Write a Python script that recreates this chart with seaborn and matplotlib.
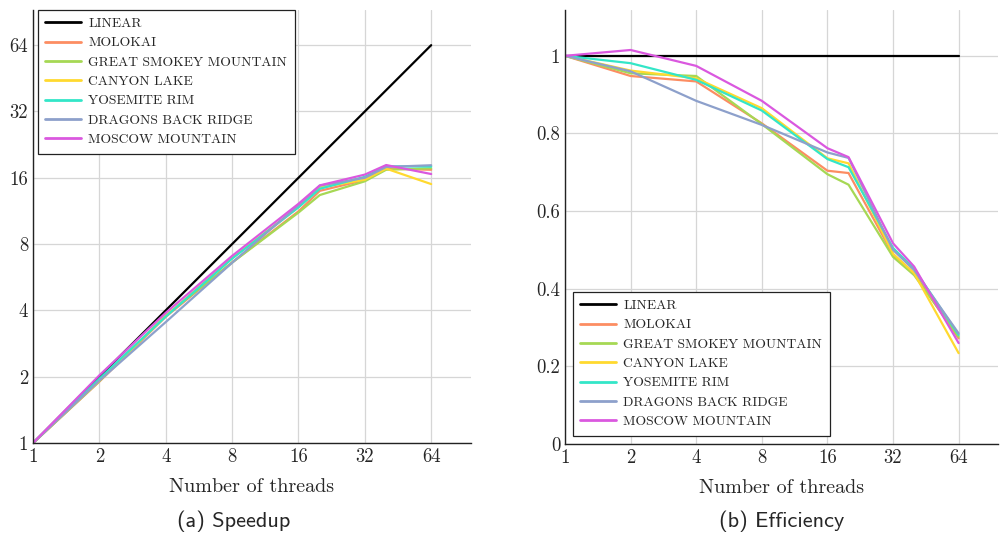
import numpy as np
import pandas as pd
import matplotlib
matplotlib.use("Agg")
import matplotlib.pyplot as plt
import seaborn as sns

threads = [1, 2, 4, 8, 16, 20, 32, 40, 64]
linear_threads = [1, 2, 4, 8, 16, 32, 64]
machines = ["LINEAR", "MOLOKAI", "GREAT SMOKEY MOUNTAIN", "CANYON LAKE",
            "YOSEMITE RIM", "DRAGONS BACK RIDGE", "MOSCOW MOUNTAIN"]
colors = ["#000000", "#FC8D62", "#A6D854", "#FFD92F", "#33E6C8", "#8DA0CB", "#DA58DF"]

linear_speedup = [1, 2, 4, 8, 16, 32, 64]
linear_eff = [1, 1, 1, 1, 1, 1, 1]

speedup_molokai = [1, 1.90, 3.74, 6.61, 11.26, 13.96, 15.62, 17.6, 17.4]
speedup_smokey = [1, 1.91, 3.79, 6.59, 11.12, 13.36, 15.42, 17.4, 17.66]
speedup_canyon = [1, 1.92, 3.77, 6.92, 11.78, 14.46, 15.68, 17.6, 14.98]
speedup_yosemite = [1, 1.96, 3.75, 6.87, 11.74, 14.26, 16.16, 18.04, 17.98]
speedup_dragons = [1, 1.92, 3.54, 6.58, 12.02, 14.74, 16.0, 17.92, 18.24]
speedup_moscow = [1, 2.03, 3.90, 7.07, 12.19, 14.78, 16.54, 18.28, 16.64]

eff_molokai = [1, 0.948, 0.934, 0.826, 0.704, 0.698, 0.488, 0.44, 0.272]
eff_smokey = [1, 0.955, 0.948, 0.824, 0.695, 0.668, 0.482, 0.435, 0.276]
eff_canyon = [1, 0.962, 0.942, 0.865, 0.736, 0.723, 0.49, 0.44, 0.234]
eff_yosemite = [1, 0.981, 0.938, 0.859, 0.734, 0.713, 0.505, 0.451, 0.281]
eff_dragons = [1, 0.96, 0.884, 0.822, 0.751, 0.737, 0.5, 0.448, 0.285]
eff_moscow = [1, 1.015, 0.974, 0.884, 0.762, 0.739, 0.517, 0.457, 0.26]

x_ticks = [1, 2, 4, 8, 16, 32, 64]
x_ticklabels = ["1", "2", "4", "8", "16", "32", "64"]
speed_ticks = [1, 2, 4, 8, 16, 32, 64]
speed_ticklabels = ["1", "2", "4", "8", "16", "32", "64"]
eff_ticks = [0, 0.2, 0.4, 0.6, 0.8, 1.0]
eff_ticklabels = ["0", "0.2", "0.4", "0.6", "0.8", "1"]

speed_series = [speedup_molokai, speedup_smokey, speedup_canyon,
                speedup_yosemite, speedup_dragons, speedup_moscow]
eff_series = [eff_molokai, eff_smokey, eff_canyon,
              eff_yosemite, eff_dragons, eff_moscow]

rows = []
for t, s, e in zip(linear_threads, linear_speedup, linear_eff):
    rows.append(dict(machine=machines[0], threads=t, speedup=s, eff=e))
for name, sp, ef in zip(machines[1:], speed_series, eff_series):
    for t, s, e in zip(threads, sp, ef):
        rows.append(dict(machine=name, threads=t, speedup=s, eff=e))
df = pd.DataFrame(rows)

sns.set_theme(style="white")
plt.rcParams["font.family"] = ["cmr10", "DejaVu Serif"]
plt.rcParams["mathtext.fontset"] = "cm"
plt.rcParams["axes.formatter.use_mathtext"] = True

palette = dict(zip(machines, colors))

fig = plt.figure(figsize=(10, 5.41), dpi=100)
ax1 = fig.add_axes([0.033, 0.1811, 0.438, 0.8004])
ax2 = fig.add_axes([0.565, 0.1793, 0.433, 0.8022])

sns.lineplot(data=df, x="threads", y="speedup", hue="machine", hue_order=machines,
             palette=palette, linewidth=1.6, ax=ax1, sort=False, estimator=None)
sns.lineplot(data=df, x="threads", y="eff", hue="machine", hue_order=machines,
             palette=palette, linewidth=1.6, ax=ax2, sort=False, estimator=None)

for ax in (ax1, ax2):
    ax.set_xscale("log", base=2)
    ax.set_xlim(1, 2 ** 6.6)
    ax.set_xticks(x_ticks)
    ax.set_xticklabels(x_ticklabels)
    ax.minorticks_off()
    ax.grid(True, color="#d6d6d6", linewidth=0.9)
    ax.set_axisbelow(True)
    for side in ("top", "right"):
        ax.spines[side].set_visible(False)
    for side in ("left", "bottom"):
        ax.spines[side].set_color("#222222")
        ax.spines[side].set_linewidth(1.0)
    ax.tick_params(axis="both", which="major", labelsize=13.5, length=3,
                   direction="inout", color="#555555", pad=2, width=0.6)
    ax.set_xlabel("Number of threads", fontsize=14.5, labelpad=8.5)
    ax.set_ylabel("")

ax1.set_yscale("log", base=2)
ax1.set_ylim(1, 2 ** 6.53)
ax1.set_yticks(speed_ticks)
ax1.set_yticklabels(speed_ticklabels)
ax1.minorticks_off()

ax2.set_ylim(0, 1.118)
ax2.set_yticks(eff_ticks)
ax2.set_yticklabels(eff_ticklabels)

for ax, anchor in ((ax1, (0.038, 1 - 10 / 541)), (ax2, (0.573, 1 - 292 / 541))):
    h, l = ax.get_legend_handles_labels()
    for hh in h:
        hh.set_linewidth(2.0)
    leg = ax.legend(h, l, loc="upper left", bbox_to_anchor=anchor,
                    bbox_transform=fig.transFigure, fontsize=9.8, frameon=True,
                    fancybox=False, edgecolor="#222222", framealpha=1,
                    handlelength=2.6, labelspacing=0.5, borderpad=0.55,
                    handletextpad=0.55, borderaxespad=0)
    leg.get_frame().set_linewidth(0.9)

fig.text(0.234, 0.037, "(a) Speedup", ha="center", va="center",
         fontsize=16, family=["cmss10", "DejaVu Sans"])
fig.text(0.782, 0.037, "(b) Efficiency", ha="center", va="center",
         fontsize=16, family=["cmss10", "DejaVu Sans"])

fig.savefig("out.png", dpi=100)
